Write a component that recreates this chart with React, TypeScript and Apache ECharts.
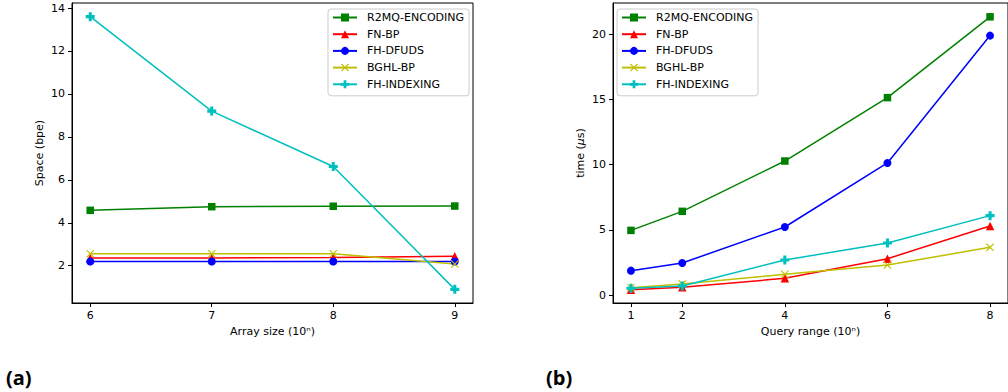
import React, { useEffect, useRef } from "react";
import * as echarts from "echarts";

const seriesNames = ["R2MQ-ENCODING", "FN-BP", "FH-DFUDS", "BGHL-BP", "FH-INDEXING"];
const seriesColors = ["#008000", "#ff0000", "#0000ff", "#bfbf00", "#00bfbf"];

// (a) Space vs array size
const arraySizes = [6, 7, 8, 9];
const spaceR2MQ = [4.58, 4.75, 4.77, 4.78];
const spaceFNBP = [2.36, 2.36, 2.38, 2.44];
const spaceFHDFUDS = [2.2, 2.2, 2.2, 2.2];
const spaceBGHL = [2.56, 2.56, 2.56, 2.08];
const spaceFHIndexing = [13.6, 9.2, 6.62, 0.9];
const spaceTicks = [2, 4, 6, 8, 10, 12, 14];

// (b) Time vs query range
const queryRanges = [1, 2, 4, 6, 8];
const timeR2MQ = [4.96, 6.42, 10.28, 15.14, 21.34];
const timeFNBP = [0.41, 0.59, 1.28, 2.79, 5.3];
const timeFHDFUDS = [1.87, 2.46, 5.22, 10.13, 19.9];
const timeBGHL = [0.56, 0.84, 1.59, 2.3, 3.66];
const timeFHIndexing = [0.52, 0.69, 2.69, 3.99, 6.09];
const timeTicks = [0, 5, 10, 15, 20];

const FONT = "DejaVu Sans";
const symbols = [
  "rect",
  "triangle",
  "circle",
  "path://M0,1L1,0L5,4L9,0L10,1L6,5L10,9L9,10L5,6L1,10L0,9L4,5Z",
  "path://M3.3,0H6.7V3.3H10V6.7H6.7V10H3.3V6.7H0V3.3H3.3Z",
];
const symbolSizes = [7.5, 8.5, 8, 8, 9];

const zip = (xs: number[], ys: number[]) => xs.map((x, i) => [x, ys[i]]);

export default function App() {
  const ref = useRef<HTMLDivElement>(null);
  useEffect(() => {
    if (!ref.current) return;
    const chart = echarts.init(ref.current, undefined, { renderer: "svg" });
    const leftSets = [spaceR2MQ, spaceFNBP, spaceFHDFUDS, spaceBGHL, spaceFHIndexing];
    const rightSets = [timeR2MQ, timeFNBP, timeFHDFUDS, timeBGHL, timeFHIndexing];
    const mkSeries = (sets: number[][], xs: number[], idx: number) =>
      sets.map((ys, i) => ({
        type: "line",
        name: seriesNames[i],
        xAxisIndex: idx,
        yAxisIndex: idx,
        data: zip(xs, ys),
        symbol: symbols[i],
        symbolSize: symbolSizes[i],
        showAllSymbol: true,
        lineStyle: { color: seriesColors[i], width: 1.5 },
        itemStyle: { color: seriesColors[i] },
        emphasis: { disabled: true },
      }));
    const axisCommon = {
      type: "value",
      axisLine: { show: true, onZero: false, lineStyle: { color: "#000", width: 1 } },
      splitLine: { show: false },
      nameLocation: "middle",
      nameTextStyle: { color: "#000", fontSize: 11, fontFamily: FONT },
    };
    const tickStyle = { length: 4, lineStyle: { color: "#000", width: 1 } };
    const labelStyle = { color: "#000", fontSize: 11, fontFamily: FONT };
    const legendCommon = {
      orient: "vertical",
      top: 9,
      itemWidth: 24,
      itemHeight: 10,
      itemGap: 3.7,
      padding: [2, 5, 5, 4],
      borderColor: "#cccccc",
      borderWidth: 1,
      borderRadius: 3,
      backgroundColor: "rgba(255,255,255,0.8)",
      textStyle: { color: "#000", fontSize: 11, fontFamily: FONT, lineHeight: 13, padding: [0, 0, 0, 5] },
      data: seriesNames,
      selectedMode: false,
    };
    chart.setOption({
      animation: false,
      textStyle: { fontFamily: FONT },
      grid: [
        { left: 72, top: 3, width: 401, height: 300, show: true, borderColor: "#000", borderWidth: 1 },
        { left: 613, top: 3, width: 401, height: 300, show: true, borderColor: "#000", borderWidth: 1 },
      ],
      xAxis: [
        {
          ...axisCommon,
          gridIndex: 0,
          min: 5.85,
          max: 9.15,
          axisTick: { ...tickStyle, customValues: arraySizes },
          axisLabel: { ...labelStyle, margin: 7, customValues: arraySizes },
          name: "Array size (10ⁿ)",
          nameGap: 22,
        },
        {
          ...axisCommon,
          gridIndex: 1,
          min: 0.65,
          max: 8.35,
          axisTick: { ...tickStyle, customValues: queryRanges },
          axisLabel: { ...labelStyle, margin: 7, customValues: queryRanges },
          name: "Query range (10ⁿ)",
          nameGap: 22,
        },
      ],
      yAxis: [
        {
          ...axisCommon,
          gridIndex: 0,
          min: 0.265,
          max: 14.235,
          axisTick: { ...tickStyle, customValues: spaceTicks },
          axisLabel: { ...labelStyle, margin: 7, customValues: spaceTicks },
          name: "Space (bpe)",
          nameGap: 27,
        },
        {
          ...axisCommon,
          gridIndex: 1,
          min: -0.61,
          max: 22.4,
          axisTick: { ...tickStyle, customValues: timeTicks },
          axisLabel: { ...labelStyle, margin: 7, customValues: timeTicks },
          name: "time ({i|μ}s)",
          nameGap: 27,
          nameTextStyle: {
            color: "#000",
            fontSize: 11,
            fontFamily: FONT,
            rich: { i: { fontStyle: "italic", fontSize: 11, fontFamily: FONT, color: "#000" } },
          },
        },
      ],
      legend: [
        { ...legendCommon, left: 328 },
        { ...legendCommon, left: 617 },
      ],
      graphic: [
        { type: "text", left: 6, top: 367, style: { text: "(a)", font: 'bold 20px "Open Sans"', fill: "#000" } },
        { type: "text", left: 546, top: 367, style: { text: "(b)", font: 'bold 20px "Open Sans"', fill: "#000" } },
      ],
      series: [...mkSeries(leftSets, arraySizes, 0), ...mkSeries(rightSets, queryRanges, 1)],
    });
    return () => chart.dispose();
  }, []);
  return (
    <div
      ref={ref}
      style={{ position: "fixed", left: 0, top: 0, width: 1008, height: 392, background: "#fff" }}
    />
  );
}
